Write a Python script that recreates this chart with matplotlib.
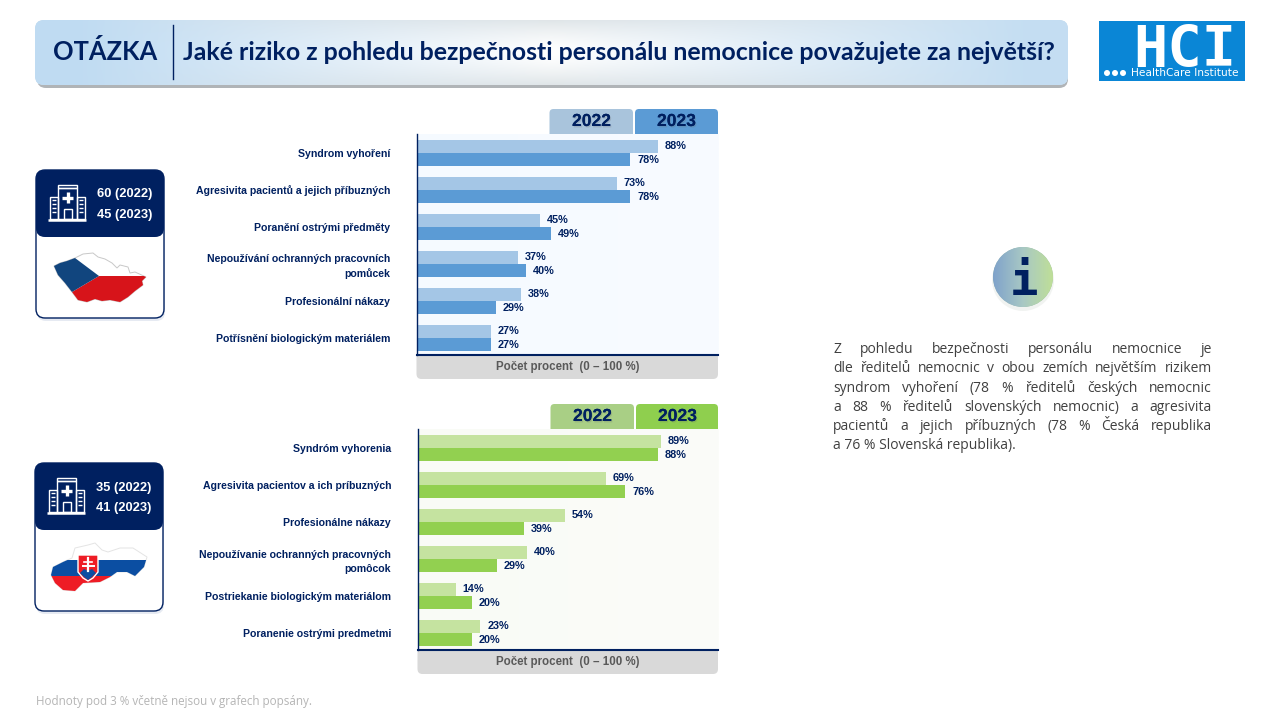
import numpy as np
import matplotlib
matplotlib.use('Agg')
import matplotlib.pyplot as plt
import matplotlib.patheffects as pe
from matplotlib.patches import FancyBboxPatch, Rectangle, Polygon, Circle

# chart data
years = ['2022', '2023']
cz_categories = ['Syndrom vyhoření', 'Agresivita pacientů a jejich příbuzných', 'Poranění ostrými předměty',
                 'Nepoužívání ochranných pracovních\npomůcek', 'Profesionální nákazy', 'Potřísnění biologickým materiálem']
cz_2022 = [88, 73, 45, 37, 38, 27]
cz_2023 = [78, 78, 49, 40, 29, 27]
sk_categories = ['Syndróm vyhorenia', 'Agresivita pacientov a ich príbuzných', 'Profesionálne nákazy',
                 'Nepoužívanie ochranných pracovných\npomôcok', 'Postriekanie biologickým materiálom', 'Poranenie ostrými predmetmi']
sk_2022 = [89, 69, 54, 40, 14, 23]
sk_2023 = [88, 76, 39, 29, 20, 20]
cz_counts = ['60 (2022)', '45 (2023)']
sk_counts = ['35 (2022)', '41 (2023)']
axis_label = 'Počet procent  (0 – 100 %)'
question = 'Jaké riziko z pohledu bezpečnosti personálu nemocnice považujete za největší?'
info_lines = ['Z pohledu bezpečnosti personálu nemocnice je',
              'dle ředitelů nemocnic v obou zemích největším rizikem',
              'syndrom vyhoření (78 % ředitelů českých nemocnic',
              'a 88 % ředitelů slovenských nemocnic) a agresivita',
              'pacientů a jejich příbuzných (78 % Česká republika',
              'a 76 % Slovenská republika).']
footnote = 'Hodnoty pod 3 % včetně nejsou v grafech popsány.'

NAVY = '#002060'
W, H = 1280, 720
LABEL_FONT = 'Liberation Sans'

fig = plt.figure(figsize=(W / 100, H / 100), dpi=100, facecolor='white')
# background axes in pixel coordinates, for everything that is not a bar
bg = fig.add_axes([0, 0, 1, 1], zorder=0)
bg.axis('off')


def rounded(x0, y0, x1, y1, r, zorder=2, **kw):
    p = FancyBboxPatch((x0 + r, y0 + r), x1 - x0 - 2 * r, y1 - y0 - 2 * r,
                       boxstyle='round,pad=%g,rounding_size=%g' % (r, r), zorder=zorder, **kw)
    bg.add_patch(p)
    return p


def gradient(x0, y0, x1, y1, stops, clip=None, zorder=2, vertical=False):
    # stops is a list of (position, colour)
    pos = [s[0] for s in stops]
    rgb = np.array([matplotlib.colors.to_rgb(s[1]) for s in stops])
    t = np.linspace(0, 1, 256)
    img = np.stack([np.interp(t, pos, rgb[:, c]) for c in range(3)], axis=-1)
    img = img[:, None, :] if vertical else img[None, :, :]
    im = bg.imshow(img, extent=(x0, x1, y1, y0), aspect='auto', zorder=zorder, interpolation='bilinear')
    if clip is not None:
        im.set_clip_path(clip)
    return im


def draw_banner():
    rounded(37, 24, 1068, 88, 9, zorder=1, fc='#8f9499', ec='none', alpha=0.7)
    shape = rounded(35, 20, 1068, 85, 9, zorder=2, fc='#cfe0ee', ec='none')
    # left to right colour with a pale middle, greyer towards top and bottom edges
    xs = np.linspace(0, 1, 500)
    ys = np.linspace(0, 1, 65)
    left, mid, right = np.array([0.75, 0.86, 0.95]), np.array([1.0, 1.0, 1.0]), np.array([0.77, 0.87, 0.95])
    m = np.clip(1 - np.abs(xs - 0.5) / 0.46, 0, 1)[None, :, None]
    side = np.where(xs < 0.5, 1, 0)[None, :, None]
    base = (left * side + right * (1 - side)) * (1 - m) + mid * m
    edge = (np.abs(ys - 0.5) * 2)[:, None, None] ** 1.5
    grey = np.array([0.78, 0.82, 0.84])
    img = base * (1 - 0.55 * edge * m) + grey * 0.55 * edge * m
    im = bg.imshow(img, extent=(35, 1068, 85, 20), aspect='auto', zorder=2)
    im.set_clip_path(shape)
    bg.plot([172.5, 172.5], [25, 79], color=NAVY, lw=1, zorder=3)
    bg.text(105.5, 52, 'OTÁZKA', color=NAVY, fontsize=18.4, fontweight='bold', family='Lato',
            ha='center', va='center', zorder=3)
    bg.text(183, 52, question, color=NAVY, fontsize=17.9, fontweight='bold', family='Lato',
            ha='left', va='center', zorder=3)


def draw_logo():
    bg.add_patch(Rectangle((1099, 21), 146, 60, fc='#0a86d6', ec='none', zorder=2))
    # the mono face has the slab I of the logo
    bg.text(1185, 67, 'HCI', color='white', fontsize=41, fontweight='bold', family='DejaVu Sans Mono',
            ha='center', va='baseline', zorder=3)
    for x in (1107, 1115, 1123):
        bg.add_patch(Circle((x, 73), 3, fc='white', ec='none', zorder=3))
    bg.text(1185, 73, 'HealthCare Institute', color='white', fontsize=7.7, family='DejaVu Sans',
            ha='center', va='center', zorder=3)


def draw_info():
    bg.add_patch(Circle((1023, 280), 31, fc='#e4e8e4', ec='none', alpha=0.5, zorder=1))
    c = Circle((1023, 277), 30, fc='#9dbdb0', ec='none', zorder=2)
    bg.add_patch(c)
    gradient(993, 247, 1053, 307, [(0, '#7fa2cb'), (0.5, '#a8c8c4'), (1, '#bfdf98')], clip=c)
    bg.text(1024, 295, 'i', color=NAVY, fontsize=34, fontweight='bold', family='DejaVu Sans Mono',
            ha='center', va='baseline', zorder=3)


def draw_paragraph():
    renderer = fig.canvas.get_renderer()
    x0, x1 = 833, 1212
    for n, line in enumerate(info_lines):
        yy = 353.3 + n * 19.2
        words = line.split(' ')
        if n == len(info_lines) - 1:
            bg.text(x0, yy, line, color='#404040', fontsize=10, family='Open Sans', ha='left', va='baseline', zorder=3)
            continue
        items = [bg.text(x0, yy, w, color='#404040', fontsize=10, family='Open Sans', ha='left', va='baseline', zorder=3)
                 for w in words]
        widths = [t.get_window_extent(renderer).width for t in items]
        gap = (x1 - x0 - sum(widths)) / (len(words) - 1)
        x = x0
        for t, w in zip(items, widths):
            t.set_x(x)
            x += w + gap


def hospital(x, y):
    # outline icon, offsets are pixels from the icon's top left corner
    kw = dict(color='white', lw=1, zorder=4, solid_capstyle='butt')
    rects = [(9, 3, 19, 31), (1, 12, 8, 22), (28, 12, 8, 22), (9, 0, 19, 3)]
    for rx, ry, rw, rh in rects:
        bg.add_patch(Rectangle((x + rx, y + ry), rw, rh, fill=False, ec='white', lw=1, zorder=4))
    bg.plot([x - 1, x + 37], [y + 34.5, y + 34.5], **{**kw, 'lw': 1.8})
    bg.add_patch(Rectangle((x + 15, y + 24), 8, 10, fill=False, ec='white', lw=1, zorder=4))
    # cross
    bg.plot([x + 18.5, x + 18.5], [y + 7, y + 18], **{**kw, 'lw': 2.4})
    bg.plot([x + 13, x + 24], [y + 12.5, y + 12.5], **{**kw, 'lw': 2.4})
    for ry in (15, 19, 23, 27):
        bg.plot([x + 3, x + 7], [y + ry, y + ry], **kw)
        bg.plot([x + 30, x + 34], [y + ry, y + ry], **kw)


def card(x0, y0, counts):
    rounded(x0 + 1, y0 + 3, x0 + 129, y0 + 151, 9, zorder=1, fc='#e6eaf2', ec='none')
    rounded(x0, y0, x0 + 128, y0 + 148, 9, zorder=2, fc='white', ec=NAVY, lw=1)
    rounded(x0, y0, x0 + 128, y0 + 67, 9, zorder=3, fc=NAVY, ec='none')
    hospital(x0 + 13, y0 + 15)
    for n, txt in enumerate(counts):
        bg.text(x0 + 89, y0 + 24.5 + n * 20.5, txt, color='white', fontsize=9.3, fontweight='bold', family=LABEL_FONT,
                ha='center', va='center', zorder=4)


def draw_czech():
    # map outline traced by eye, pixels
    pts = [(54, 266), (60, 263), (67, 261), (75, 258), (83, 254), (93, 253), (98, 257), (105, 259), (112, 263),
           (117, 268), (120, 265), (128, 267), (130, 273), (135, 272), (146, 277), (142, 281), (143, 285),
           (135, 291), (128, 297), (120, 302), (110, 300), (102, 301), (95, 299), (87, 302), (78, 300),
           (72, 292), (65, 283), (58, 275)]
    shape = Polygon(pts, closed=True, fc='white', ec='#c8c8c8', lw=0.7, zorder=3)
    bg.add_patch(shape)
    red = Polygon([(99, 276), (150, 276), (150, 305), (50, 305), (50, 302), (72, 292)], fc='#d7141a', ec='none', zorder=3)
    blue = Polygon([(75, 258), (99, 276), (72, 292), (60, 305), (50, 302), (50, 258)], fc='#11457e', ec='none', zorder=3)
    for p in (red, blue):
        bg.add_patch(p)
        p.set_clip_path(shape)


def draw_slovak():
    pts = [(51, 575), (53, 567), (63, 562), (72, 558), (75, 548), (88, 545), (95, 543), (102, 550), (108, 552),
           (120, 548), (133, 548), (147, 557), (144, 567), (135, 576), (127, 572), (117, 572), (110, 577),
           (100, 582), (83, 583), (75, 591), (63, 590), (55, 583)]
    shape = Polygon(pts, closed=True, fc='white', ec='#e4e4e4', lw=0.7, zorder=3)
    bg.add_patch(shape)
    blue = Rectangle((48, 559.5), 102, 16.5, fc='#0b4ea2', ec='none', zorder=3)
    red = Rectangle((48, 576), 102, 18, fc='#ee1c25', ec='none', zorder=3)
    for p in (blue, red):
        bg.add_patch(p)
        p.set_clip_path(shape)
    # coat of arms
    bg.add_patch(Polygon([(78, 555), (98, 555), (98, 572), (93, 578), (88, 581), (83, 578), (78, 572)],
                         fc='#ee1c25', ec='white', lw=1, zorder=4))
    bg.add_patch(Polygon([(80, 573), (84, 569), (88, 571), (92, 569), (96, 573), (92, 577), (88, 580), (84, 577)],
                         fc='#0b4ea2', ec='none', zorder=5))
    bg.plot([88, 88], [558, 571], color='white', lw=1.6, zorder=6)
    bg.plot([84, 92], [561.5, 561.5], color='white', lw=1.2, zorder=6)
    bg.plot([82.5, 93.5], [565.5, 565.5], color='white', lw=1.4, zorder=6)


def chart_panel(left, top, tab_light, tab_dark, panel_stops, light, dark, categories, v2022, v2023):
    right = 718
    bottom = top + 221
    # year tabs, their lower corners are covered by the panel
    rounded(left + 133, top - 25, left + 216.5, top + 6, 4, zorder=2, fc=tab_light, ec='none')
    rounded(left + 218.5, top - 25, right, top + 6, 4, zorder=2, fc=tab_dark, ec='none')
    shadow = [pe.withSimplePatchShadow(offset=(0.8, -1.0), shadow_rgbFace='#666666', alpha=0.22), pe.Normal()]
    for cx, yr in zip((left + 175, left + 260), years):
        bg.text(cx, top - 12.5, yr, color=NAVY, fontsize=12.6, fontweight='bold', family=LABEL_FONT,
                ha='center', va='center', zorder=4, path_effects=shadow)
    gradient(left, top, right, bottom, panel_stops, zorder=3)
    # grey strip under the bars
    rounded(left, bottom - 4, right, bottom + 24, 5, zorder=2, fc='#d9d9d9', ec='none')
    bg.text((left + right) / 2, bottom + 12, axis_label, color='#595959', fontsize=8.3, fontweight='bold',
            family=LABEL_FONT, ha='center', va='center', zorder=4)

    ax = fig.add_axes([left / W, 1 - bottom / H, (right - left) / W, 221 / H], zorder=2)
    ax.patch.set_alpha(0)
    y = np.arange(len(categories))
    b1 = ax.barh(y - 0.18, v2022, 0.36, color=light)
    b2 = ax.barh(y + 0.18, v2023, 0.36, color=dark)
    for b in (b1, b2):
        ax.bar_label(b, fmt='%d%%', padding=5, color=NAVY, fontsize=7.8, fontweight='bold', family=LABEL_FONT)
    ax.set_xlim(0, 110)
    ax.set_ylim(5.46, -0.51)
    ax.set_xticks([])
    ax.set_yticks(y, categories)
    ax.tick_params(axis='y', length=0, pad=19)
    for t in ax.get_yticklabels():
        t.set(color=NAVY, fontsize=7.6, fontweight='bold', family=LABEL_FONT, ma='right', linespacing=1.45,
              va='center_baseline')
    ax.spines[['top', 'right']].set_visible(False)
    ax.spines['left'].set(color=NAVY, lw=1.0)
    ax.spines['bottom'].set(color=NAVY, lw=1.5)


draw_banner()
draw_logo()
draw_info()
chart_panel(416.5, 134, '#a9c4dc', '#5b9bd5', [(0, '#f5faff'), (1, '#f8fbff')], '#a4c6e6', '#5b9bd5',
            cz_categories, cz_2022, cz_2023)
chart_panel(417.5, 429, '#a9cf85', '#8fcf4e', [(0, '#f9fbf6'), (1, '#fbfcf9')], '#c5e3a0', '#92d050',
            sk_categories, sk_2022, sk_2023)
card(36, 170, cz_counts)
card(35, 463, sk_counts)
draw_czech()
draw_slovak()
draw_paragraph()
bg.text(36, 702, footnote, color='#b5b5b5', fontsize=8.4, family='Open Sans', ha='left', va='center', zorder=3)

bg.set_xlim(0, W)
bg.set_ylim(H, 0)
fig.savefig('out.png', dpi=100)
